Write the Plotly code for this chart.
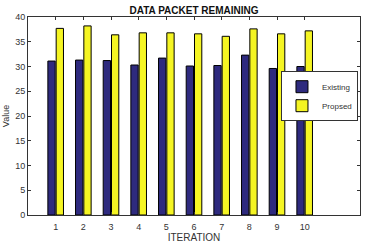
import plotly.graph_objects as go

iterations = [1, 2, 3, 4, 5, 6, 7, 8, 9, 10]
existing = [31.1, 31.3, 31.2, 30.3, 31.7, 30.1, 30.2, 32.3, 29.6, 30.0]
proposed = [37.7, 38.2, 36.4, 36.8, 36.8, 36.6, 36.1, 37.6, 36.6, 37.2]

fig = go.Figure()
fig.add_trace(go.Bar(x=iterations, y=existing, name="Existing",
                     marker=dict(color="#2E2A7E", line=dict(color="black", width=1))))
fig.add_trace(go.Bar(x=iterations, y=proposed, name="Propsed",
                     marker=dict(color="#F5F523", line=dict(color="black", width=1))))

axis_common = dict(showline=True, linecolor="#333", linewidth=1, mirror="ticks",
                   ticks="inside", ticklen=3, tickcolor="#333", showgrid=False,
                   zeroline=False, tickfont=dict(size=9, color="#333",
                                                 family="Liberation Sans, Arial"))

fig.update_layout(
    width=366, height=244,
    margin=dict(l=27, r=5, t=17, b=25),
    paper_bgcolor="white", plot_bgcolor="white",
    barmode="group", bargap=0.4, bargroupgap=0.12,
    title=dict(text="<b>DATA PACKET REMAINING</b>", x=0.53, xanchor="center",
               y=0.958, yanchor="middle",
               font=dict(size=10, color="#111", family="Liberation Sans, Arial")),
    xaxis=dict(range=[0, 12], tickvals=iterations, ticklabelstandoff=3, **axis_common,
               title=dict(text="ITERATION", standoff=0,
                          font=dict(size=10, color="#333", family="Liberation Sans, Arial"))),
    yaxis=dict(range=[0, 40], dtick=5, **axis_common,
               title=dict(text="Value", standoff=4,
                          font=dict(size=9, color="#333", family="Liberation Sans, Arial"))),
    legend=dict(x=0.762, y=0.6, xanchor="left", yanchor="middle",
                bordercolor="#333", borderwidth=1, bgcolor="white",
                font=dict(size=8, color="#333", family="Liberation Sans, Arial"),
                tracegroupgap=0, itemwidth=30),
    showlegend=True,
)

fig.write_html("out.html")
